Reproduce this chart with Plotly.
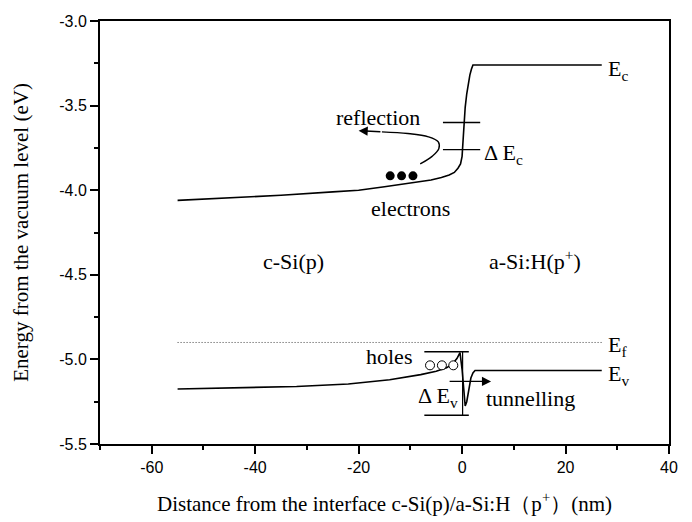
import plotly.graph_objects as go

# Conduction band edge E_c (distance in nm, energy in eV)
ec_x = [-55, -45, -35, -25, -20, -15, -10, -6, -4, -2.5, -1.5, -0.8, -0.3, 0.0, 0.2, 0.4, 0.6, 0.9, 1.2, 1.5, 1.8, 2.1, 27]
ec_y = [-4.06, -4.045, -4.03, -4.01, -4.0, -3.98, -3.96, -3.94, -3.925, -3.91, -3.895, -3.87, -3.845, -3.80, -3.70, -3.60, -3.51, -3.43, -3.37, -3.32, -3.285, -3.26, -3.26]

# Valence band edge E_v
ev_x = [-55, -45, -32, -22, -14, -8, -5, -3, -1.8, -1.0, -0.4, 0.0, 0.3, 0.6, 0.9, 1.3, 1.7, 2.1, 2.5, 27]
ev_y = [-5.175, -5.17, -5.16, -5.145, -5.12, -5.09, -5.07, -5.05, -5.025, -4.995, -4.96, -5.06, -5.18, -5.275, -5.25, -5.17, -5.11, -5.08, -5.066, -5.066]

# Fermi level E_f
ef_x = [-55, 27]
ef_y = [-4.9, -4.9]

# Band offsets marked near the interface
dec_y = [-3.60, -3.76]
dec_x = [-3.7, 3.5]
dev_y = [-4.955, -5.33]
dev_x = [-7.3, 1.3]
dev_bar_x = 0.1

# Carriers
electron_x = [-13.9, -11.7, -9.5]
electron_y = [-3.915, -3.915, -3.915]
hole_x = [-6.2, -3.9, -1.7]
hole_y = [-5.035, -5.035, -5.035]

# Reflection path of electrons
refl_x = [-8.1, -5.8, -4.5, -4.6, -6.5, -10.5, -15.5]
refl_y = [-3.845, -3.8, -3.755, -3.715, -3.685, -3.665, -3.655]
refl_tip = (-20.0, -3.648)

# Tunnelling arrow
tun_from = (-2.7, -5.13)
tun_to = (5.6, -5.13)

x_ticks = [-60, -40, -20, 0, 20, 40]
y_ticks = [-5.5, -5.0, -4.5, -4.0, -3.5, -3.0]

serif = "Liberation Serif"
sans = "Liberation Sans"
line_col = "black"
label_size = 22

fig = go.Figure()

fig.add_trace(go.Scatter(x=ec_x, y=ec_y, mode="lines", line=dict(color=line_col, width=1.6)))
fig.add_trace(go.Scatter(x=ev_x, y=ev_y, mode="lines", line=dict(color=line_col, width=1.6)))
fig.add_trace(go.Scatter(x=ef_x, y=ef_y, mode="lines", line=dict(color="#444444", width=1, dash="1px,2px")))

for yv in dec_y:
    fig.add_trace(go.Scatter(x=dec_x, y=[yv, yv], mode="lines", line=dict(color=line_col, width=1.4)))
for yv in dev_y:
    fig.add_trace(go.Scatter(x=dev_x, y=[yv, yv], mode="lines", line=dict(color=line_col, width=1.4)))
fig.add_trace(go.Scatter(x=[dev_bar_x, dev_bar_x], y=dev_y, mode="lines", line=dict(color=line_col, width=1.2)))

fig.add_trace(go.Scatter(x=electron_x, y=electron_y, mode="markers",
                         marker=dict(color="black", size=9)))
fig.add_trace(go.Scatter(x=hole_x, y=hole_y, mode="markers",
                         marker=dict(color="white", size=9, line=dict(color="black", width=1))))

fig.add_trace(go.Scatter(x=refl_x, y=refl_y, mode="lines",
                         line=dict(color=line_col, width=1.4, shape="spline")))

annotations = [
    dict(x=refl_tip[0], y=refl_tip[1], ax=refl_x[-1], ay=refl_y[-1], xref="x", yref="y",
         axref="x", ayref="y", text="", showarrow=True, arrowhead=2, arrowsize=1.3,
         arrowwidth=1.4, arrowcolor="black"),
    dict(x=tun_to[0], y=tun_to[1], ax=tun_from[0], ay=tun_from[1], xref="x", yref="y",
         axref="x", ayref="y", text="", showarrow=True, arrowhead=2, arrowsize=1.3,
         arrowwidth=1.4, arrowcolor="black"),
]

labels = [
    ("E<sub>c</sub>", 27.8, -3.29, "left"),
    ("E<sub>f</sub>", 27.8, -4.92, "left"),
    ("E<sub>v</sub>", 27.8, -5.09, "left"),
    ("Δ E<sub>c</sub>", 3.8, -3.785, "left"),
    ("Δ E<sub>v</sub>", -0.4, -5.225, "right"),
    ("reflection", -16.2, -3.57, "center"),
    ("electrons", -9.9, -4.11, "center"),
    ("holes", -14.1, -4.985, "center"),
    ("tunnelling", 13.3, -5.23, "center"),
    ("c-Si(p)", -32.6, -4.42, "center"),
    ("a-Si:H(p<sup>+</sup>)", 14.0, -4.41, "center"),
]
for txt, x, y, anchor in labels:
    annotations.append(dict(x=x, y=y, xref="x", yref="y", text=txt, showarrow=False,
                            xanchor=anchor, yanchor="middle",
                            font=dict(family=serif, size=label_size, color="black")))

axis_common = dict(showline=True, linecolor="black", linewidth=2, mirror=True,
                   ticks="outside", ticklen=8, tickwidth=2, tickcolor="black",
                   showgrid=False, zeroline=False, automargin=False,
                   tickfont=dict(family=sans, size=16, color="black"))

fig.update_layout(
    width=692, height=522,
    margin=dict(l=100, r=23, t=21, b=78),
    paper_bgcolor="white", plot_bgcolor="white",
    showlegend=False,
    annotations=annotations,
    xaxis=dict(range=[-70, 40], tickvals=x_ticks, ticktext=[str(v) for v in x_ticks],
               minor=dict(dtick=10, tick0=0, ticks="outside", ticklen=4, tickwidth=1.5, tickcolor="black"),
               title=dict(text="Distance from the interface c-Si(p)/a-Si:H（p<sup>+</sup>）(nm)",
                          font=dict(family=serif, size=21, color="black"), standoff=21),
               **axis_common),
    yaxis=dict(range=[-5.5, -3.0], tickvals=y_ticks, ticktext=[f"{v:.1f}" for v in y_ticks],
               minor=dict(dtick=0.25, tick0=0, ticks="outside", ticklen=4, tickwidth=1.5, tickcolor="black"),
               title=dict(text="Energy from the vacuum level (eV)",
                          font=dict(family=serif, size=21, color="black"), standoff=25),
               **axis_common),
)

fig.write_html("out.html")
